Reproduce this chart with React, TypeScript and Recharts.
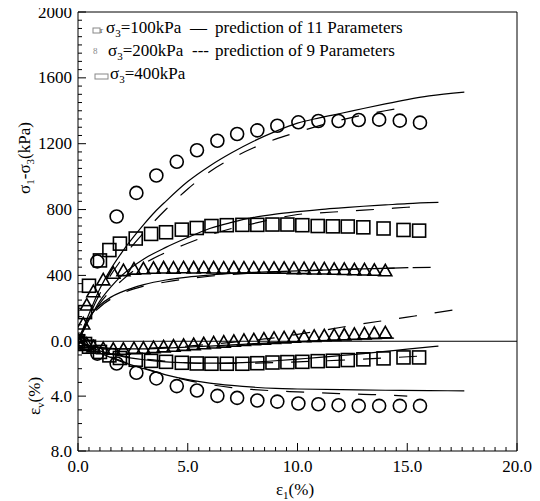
import React from "react";
import { ComposedChart, Line, Scatter, XAxis, YAxis, ReferenceLine } from "recharts";

const FONT = "'Liberation Serif', 'Times New Roman', Times, serif";

// ---- axis tick labels ----
const xMajorTicks = [0, 5, 10, 15, 20];
const stressMajorTicks = [0, 400, 800, 1200, 1600, 2000];
const strainMajorTicks = [4, 8];
const STRAIN_UNIT = 2000 / 24; // stress-axis units per 1% strain (shared axis)

// ---- experimental data: triangles (sigma3 = 100 kPa) ----
const triX = [0, 0.24, 0.4, 0.7, 1.15, 1.61, 2.07, 2.55, 2.98, 3.44, 3.9, 4.35, 4.81, 5.27, 5.73, 6.18, 6.64, 7.1, 7.56, 8.01, 8.47, 8.93, 9.39, 9.84, 10.3, 10.76, 11.22, 11.67, 12.13, 12.59, 13.05, 13.5, 14.0];
const triStress = [0, 102, 217, 298, 370, 410, 426, 435, 437, 440, 442, 441, 443, 442, 443, 442, 441, 442, 441, 441, 440, 440, 440, 438, 438, 436, 436, 434, 433, 431, 430, 428, 425];
const triStrain = [0, 0.15, 0.25, 0.45, 0.58, 0.62, 0.62, 0.58, 0.55, 0.5, 0.45, 0.4, 0.34, 0.28, 0.22, 0.16, 0.1, 0.04, -0.02, -0.07, -0.12, -0.17, -0.21, -0.25, -0.29, -0.32, -0.36, -0.39, -0.42, -0.46, -0.5, -0.54, -0.58];

// ---- squares (sigma3 = 200 kPa) ----
const sqX = [0, 0.32, 0.5, 1.0, 1.43, 1.91, 2.63, 3.33, 4.01, 4.73, 5.41, 6.08, 6.78, 7.49, 8.17, 8.86, 9.54, 10.22, 10.92, 11.61, 12.29, 13.0, 13.92, 14.83, 15.54];
const sqStress = [0, 177, 337, 491, 554, 593, 624, 652, 662, 678, 688, 700, 705, 707, 707, 709, 709, 705, 700, 698, 697, 692, 685, 676, 672];
const sqStrain = [0, 0.2, 0.4, 0.78, 1.03, 1.22, 1.35, 1.43, 1.5, 1.57, 1.62, 1.64, 1.64, 1.64, 1.6, 1.55, 1.52, 1.5, 1.45, 1.42, 1.37, 1.32, 1.25, 1.18, 1.18];

// ---- circles (sigma3 = 400 kPa) ----
const ciX = [0, 0.88, 1.76, 2.66, 3.57, 4.5, 5.42, 6.35, 7.25, 8.17, 9.08, 10.04, 10.95, 11.87, 12.79, 13.72, 14.66, 15.58];
const ciStress = [0, 485, 758, 901, 1007, 1090, 1160, 1218, 1259, 1281, 1309, 1330, 1338, 1338, 1344, 1346, 1340, 1328];
const ciStrain = [0, 0.9, 1.62, 2.3, 2.71, 3.27, 3.59, 3.98, 4.13, 4.32, 4.4, 4.54, 4.59, 4.66, 4.71, 4.71, 4.71, 4.71];

// ---- predictions, 11 parameters (solid) ----
const p11CiStressX = [0, 0.5, 1, 1.5, 2, 2.63, 3, 3.5, 4, 5, 6, 7, 8, 9, 10, 11, 12, 13, 14, 15, 16, 17.6];
const p11CiStress = [0, 165, 320, 440, 540, 650, 710, 785, 850, 970, 1065, 1145, 1215, 1275, 1325, 1357, 1385, 1414, 1442, 1468, 1490, 1513];
const p11SqStressX = [0, 0.5, 1, 1.5, 2, 3, 4, 5, 6, 7, 8, 9, 10, 11, 12, 13, 14, 15, 16.42];
const p11SqStress = [0, 130, 245, 330, 400, 500, 570, 630, 685, 722, 752, 772, 787, 800, 810, 820, 828, 836, 843];
const p11TriStressX = [0, 0.5, 1, 1.5, 2, 3, 4, 5, 6, 7, 8, 9, 10, 11, 12, 13, 14, 15.05];
const p11TriStress = [0, 142, 219, 268, 300, 344, 372, 390, 402, 412, 418, 423, 428, 432, 436, 440, 443, 447];
const p11CiStrainX = [0, 0.5, 1, 2, 3, 4, 5, 6, 7, 8, 9, 10, 12, 14, 16, 17.6];
const p11CiStrain = [0, 0.45, 0.85, 1.5, 2.0, 2.45, 2.8, 3.05, 3.22, 3.35, 3.44, 3.48, 3.53, 3.57, 3.6, 3.61];
const p11SqStrainX = [0, 1, 2, 3, 4, 5, 6, 7, 8, 9, 10, 11, 12, 13, 14, 15, 16.42];
const p11SqStrain = [0, 0.7, 1.1, 1.35, 1.5, 1.57, 1.6, 1.58, 1.52, 1.42, 1.3, 1.18, 1.04, 0.9, 0.74, 0.57, 0.35];
const p11TriStrainX = [0, 0.5, 1, 2, 3, 4, 5, 6, 7, 8, 9, 10, 11, 12, 13, 14.4];
const p11TriStrain = [0, 0.3, 0.45, 0.55, 0.55, 0.5, 0.43, 0.35, 0.27, 0.18, 0.1, 0.02, -0.05, -0.11, -0.17, -0.23];

// ---- predictions, 9 parameters (dashed) ----
const p9CiStressX = [0, 0.5, 1, 2, 3, 4, 5, 6, 7, 8, 9, 10, 11, 12, 13, 14, 15];
const p9CiStress = [0, 150, 290, 500, 660, 800, 925, 1030, 1110, 1175, 1228, 1270, 1310, 1345, 1375, 1400, 1425];
const p9SqStressX = [0, 0.5, 1, 2, 3, 4, 5, 6, 7, 8, 9, 10, 11, 12, 13, 14, 15, 15.6];
const p9SqStress = [0, 125, 230, 370, 470, 540, 595, 645, 685, 715, 745, 770, 780, 788, 796, 805, 814, 820];
const p9TriStressX = [0, 0.5, 1, 2, 3, 4, 5, 6, 7, 8, 9, 10, 11, 12, 13, 14, 15, 16.73];
const p9TriStress = [0, 135, 208, 290, 335, 360, 380, 395, 406, 414, 420, 426, 431, 435, 440, 443, 446, 451];
const p9CiStrainX = [0, 1, 2, 3, 4, 5, 6, 7, 8, 9, 10, 11, 12, 13, 14, 15];
const p9CiStrain = [0, 0.8, 1.45, 1.95, 2.45, 2.85, 3.15, 3.38, 3.52, 3.62, 3.69, 3.76, 3.82, 3.87, 3.92, 4.0];
const p9SqStrainX = [0, 1, 2, 4, 6, 8, 10, 12, 14, 15.6];
const p9SqStrain = [0, 0.65, 1.05, 1.45, 1.62, 1.6, 1.5, 1.38, 1.22, 1.08];
const p9TriStrainX = [0, 0.5, 1, 2, 3, 4, 5, 6, 7, 8, 9, 10, 11, 12, 13, 14, 15, 16, 17.26];
const p9TriStrain = [0, 0.3, 0.45, 0.55, 0.52, 0.45, 0.35, 0.22, 0.08, -0.08, -0.25, -0.5, -0.75, -1.02, -1.28, -1.52, -1.76, -2.0, -2.33];

const zip = (xs: number[], ys: number[]) => xs.map((x, i) => ({ x, y: ys[i] }));

// tick positions (major + minor) on the shared left axis
const yTicks: number[] = [];
for (let v = 0; v <= 2000; v += 50) yTicks.push(v);
for (let s = 1; s <= 8; s += 1) yTicks.push(-s * STRAIN_UNIT);
const xTicks: number[] = [];
for (let v = 0; v <= 20; v += 0.5) xTicks.push(v);

const W = 532;
const H = 501;
const AXIS_X = 70; // left axis position inside the chart (margin.left + YAxis width)

const isMajorY = (v: number) => {
  if (v >= 0) return stressMajorTicks.includes(Math.round(v));
  const s = Math.round(-v / STRAIN_UNIT);
  return strainMajorTicks.includes(s);
};
const yLabel = (v: number) => {
  if (Math.abs(v) < 1e-6) return "0.0";
  if (v > 0) return String(Math.round(v));
  return Math.round(-v / STRAIN_UNIT).toFixed(1);
};

const YTick = (props: any) => {
  const { y, payload } = props;
  const v = payload.value;
  const major = isMajorY(v);
  const x = AXIS_X;
  return (
    <g>
      <line x1={x} x2={x + (major ? 8 : 4)} y1={y} y2={y} stroke="#000" strokeWidth={1} />
      {major && (
        <text x={x - 6} y={y} textAnchor="end" dominantBaseline="central" style={{ fontFamily: FONT }} fontSize={17} fill="#000">
          {yLabel(v)}
        </text>
      )}
    </g>
  );
};

const XTick = (props: any) => {
  const { x, y, payload } = props;
  const v = payload.value;
  const major = xMajorTicks.includes(v);
  return (
    <g>
      <line x1={x} x2={x} y1={y} y2={y - (major ? 8 : 4)} stroke="#000" strokeWidth={1} />
      {major && (
        <text x={x} y={y + 21} textAnchor="middle" style={{ fontFamily: FONT }} fontSize={17} fill="#000">
          {v.toFixed(1)}
        </text>
      )}
    </g>
  );
};

const Circ = (p: any) => <circle cx={p.cx} cy={p.cy} r={6.5} fill="none" stroke="#000" strokeWidth={1.6} />;
const Sq = (p: any) => <rect x={p.cx - 6.5} y={p.cy - 6.5} width={13} height={13} fill="none" stroke="#000" strokeWidth={1.6} />;
const Tri = (p: any) => (
  <polygon
    points={`${p.cx},${p.cy - 7} ${p.cx - 6.5},${p.cy + 4.5} ${p.cx + 6.5},${p.cy + 4.5}`}
    fill="none"
    stroke="#000"
    strokeWidth={1.6}
  />
);

const solid = { stroke: "#000", strokeWidth: 1.2, dot: false, activeDot: false, isAnimationActive: false, type: "monotone" as const };
const dashed = { ...solid, strokeDasharray: "18 18" };

export default function App() {
  return (
    <div style={{ position: "relative", width: W, height: H, marginTop: -8, fontFamily: FONT }}>
      <ComposedChart width={W} height={H} margin={{ top: 12, right: 23, bottom: 0, left: 0 }}>
        <XAxis
          type="number"
          dataKey="x"
          domain={[0, 20]}
          ticks={xTicks}
          interval={0}
          allowDataOverflow
          height={50}
          tickSize={0}
          tickMargin={0}
          tick={<XTick />}
          axisLine={{ stroke: "#000" }}
        />
        <YAxis
          yAxisId="stress"
          type="number"
          domain={[-8 * STRAIN_UNIT, 2000]}
          ticks={yTicks}
          interval={0}
          allowDataOverflow
          width={70}
          tickSize={0}
          tickMargin={0}
          tick={<YTick />}
          axisLine={{ stroke: "#000" }}
        />
        <YAxis
          yAxisId="strain"
          type="number"
          domain={[-24, 8]}
          reversed
          allowDataOverflow
          width={0}
          axisLine={false}
          tickLine={false}
          tick={false}
        />
        <ReferenceLine yAxisId="stress" y={2000} stroke="#000" strokeWidth={1} />
        <ReferenceLine yAxisId="stress" x={20} stroke="#000" strokeWidth={1} />
        <ReferenceLine yAxisId="stress" y={0} stroke="#000" strokeWidth={1} />

        <Line yAxisId="stress" data={zip(p11CiStressX, p11CiStress)} dataKey="y" {...solid} />
        <Line yAxisId="stress" data={zip(p11SqStressX, p11SqStress)} dataKey="y" {...solid} />
        <Line yAxisId="stress" data={zip(p11TriStressX, p11TriStress)} dataKey="y" {...solid} />
        <Line yAxisId="stress" data={zip(p9CiStressX, p9CiStress)} dataKey="y" {...dashed} />
        <Line yAxisId="stress" data={zip(p9SqStressX, p9SqStress)} dataKey="y" {...dashed} />
        <Line yAxisId="stress" data={zip(p9TriStressX, p9TriStress)} dataKey="y" {...dashed} />

        <Line yAxisId="strain" data={zip(p11CiStrainX, p11CiStrain)} dataKey="y" {...solid} />
        <Line yAxisId="strain" data={zip(p11SqStrainX, p11SqStrain)} dataKey="y" {...solid} />
        <Line yAxisId="strain" data={zip(p11TriStrainX, p11TriStrain)} dataKey="y" {...solid} />
        <Line yAxisId="strain" data={zip(p9CiStrainX, p9CiStrain)} dataKey="y" {...dashed} />
        <Line yAxisId="strain" data={zip(p9SqStrainX, p9SqStrain)} dataKey="y" {...dashed} />
        <Line yAxisId="strain" data={zip(p9TriStrainX, p9TriStrain)} dataKey="y" {...dashed} />

        <Scatter yAxisId="stress" data={zip(ciX, ciStress)} dataKey="y" shape={<Circ />} isAnimationActive={false} />
        <Scatter yAxisId="stress" data={zip(sqX, sqStress)} dataKey="y" shape={<Sq />} isAnimationActive={false} />
        <Scatter yAxisId="stress" data={zip(triX, triStress)} dataKey="y" shape={<Tri />} isAnimationActive={false} />
        <Scatter yAxisId="strain" data={zip(ciX, ciStrain)} dataKey="y" shape={<Circ />} isAnimationActive={false} />
        <Scatter yAxisId="strain" data={zip(sqX, sqStrain)} dataKey="y" shape={<Sq />} isAnimationActive={false} />
        <Scatter yAxisId="strain" data={zip(triX, triStrain)} dataKey="y" shape={<Tri />} isAnimationActive={false} />
      </ComposedChart>

      <svg width={W} height={H} style={{ position: "absolute", left: 0, top: 0, pointerEvents: "none", fontFamily: FONT }} fill="#000">
        {/* legend */}
        <rect x={85} y={28} width={7} height={5} fill="none" stroke="#888" strokeWidth={1} />
        <text x={92} y={33} fontSize={9} fill="#444">r</text>
        <text x={98} y={33} fontSize={17}>
          σ<tspan dy={4} fontSize={11}>3</tspan><tspan dy={-4}>=100kPa</tspan>
        </text>
        <text x={182} y={33} fontSize={17}>—</text>
        <text x={207} y={33} fontSize={17}>prediction of 11 Parameters</text>

        <text x={85} y={54} fontSize={9} fill="#888">8</text>
        <text x={100} y={56} fontSize={17}>
          σ<tspan dy={4} fontSize={11}>3</tspan><tspan dy={-4}>=200kPa</tspan>
        </text>
        <text x={184} y={56} fontSize={17}>---</text>
        <text x={207} y={56} fontSize={17}>prediction of 9 Parameters</text>

        <rect x={87} y={74} width={13} height={5} fill="none" stroke="#888" strokeWidth={1} />
        <text x={102} y={79} fontSize={17}>
          σ<tspan dy={4} fontSize={11}>3</tspan><tspan dy={-4}>=400kPa</tspan>
        </text>

        {/* axis titles */}
        <text x={287} y={495} textAnchor="middle" fontSize={17}>
          ε<tspan dy={4} fontSize={11}>1</tspan><tspan dy={-4}>(%)</tspan>
        </text>
        <text x={0} y={0} textAnchor="middle" fontSize={17} transform="translate(22,158) rotate(-90)">
          σ<tspan dy={4} fontSize={11}>1</tspan><tspan dy={-4}>-σ</tspan><tspan dy={4} fontSize={11}>3</tspan><tspan dy={-4}>(kPa)</tspan>
        </text>
        <text x={0} y={0} textAnchor="middle" fontSize={17} transform="translate(32,396) rotate(-90)">
          ε<tspan dy={4} fontSize={11}>v</tspan><tspan dy={-4}>(%)</tspan>
        </text>
      </svg>
    </div>
  );
}
